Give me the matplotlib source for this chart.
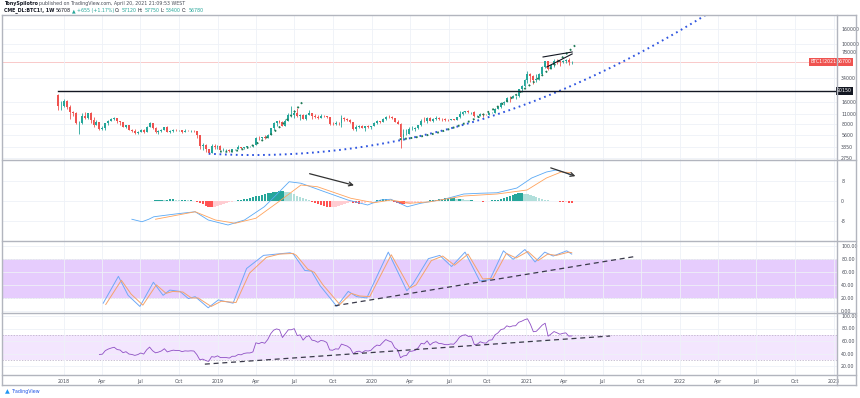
import numpy as np
import pandas as pd
import matplotlib
matplotlib.use("Agg")
import matplotlib.pyplot as plt
import matplotlib.dates as mdates
from matplotlib.lines import Line2D

# ---------------- data (weekly candles, CME BTC1!) -------------
start_date = "2017-12-18"
first_open = 20200
closes = [
    14000, 14300,
    16400, 13900, 11700, 11300, 8200, 8200, 10400, 9800, 11300, 9100, 7900, 8500, 6900,
    7000, 8300, 8900, 9300, 9600, 8700, 8500, 7400, 7700, 6700, 6500, 6100, 6300,
    6700, 6300, 7400, 8200, 7000, 6200, 6400, 6700, 7300, 6250, 6500, 6700, 6600,
    6600, 6300, 6450, 6400, 6450, 6400, 5600, 4000, 4100, 3600, 3250, 4000, 3850, 4050,
    3550, 3550, 3550, 3430, 3650, 3650, 3850, 3800, 3950, 4000, 4000, 4100,
    5200, 5100, 5300, 5200, 5750, 7000, 8200, 8750, 8650, 7650, 8950, 10800, 10800,
    11450, 10250, 10550, 9500, 10800, 11300, 10300, 10150, 9800, 10400, 10300, 9980, 8050,
    7950, 8300, 8220, 9550, 9300, 9050, 8500, 6900, 7400, 7500, 7070, 7500, 7400, 7550,
    8200, 8700, 8600, 9350, 10150, 9900, 9700, 8550, 8050, 5400, 5800, 5900,
    6800, 6900, 7100, 7700, 8900, 8750, 9700, 8700, 9450, 9750, 9350, 9300, 9100,
    9080, 9250, 9200, 9900, 11100, 11700, 11900, 11650, 11700, 10250, 10350, 10950, 10750,
    10700, 11400, 11500, 13000, 13800, 15500, 15950, 18400, 18200, 19150, 19250, 24000, 26500, 32000,
    38300, 36000, 32300, 33100, 38900, 48600, 57500, 45200, 51000, 59000, 57500, 55800,
    58500, 59800, 56200, 56708,
]
highs = [
    20650, 16500,
    17400, 17100, 14500, 12200, 11700, 8800, 11200, 11800, 11500, 11800, 9900, 9200, 8600,
    7600, 8400, 9000, 9800, 9900, 9800, 8900, 8500, 7800, 7800, 6900, 6900, 6500,
    6900, 6800, 7600, 8500, 8300, 7200, 6600, 6800, 7400, 7500, 6600, 6800, 6800,
    6700, 6700, 6800, 6600, 6550, 6600, 6500, 5600, 4400, 4300, 3700, 4300, 4300, 4100,
    4100, 3750, 3650, 3600, 3700, 3700, 4200, 3900, 3950, 4050, 4050, 4150,
    5400, 5500, 5400, 5650, 5800, 7100, 8500, 8900, 9100, 8900, 9400, 11200, 14000,
    12300, 13300, 11100, 10900, 11000, 12400, 11500, 10900, 10700, 10900, 10500, 10400, 10100,
    8500, 8800, 8500, 10500, 9900, 9600, 9300, 8500, 7800, 7800, 7700, 7500, 7700, 7600,
    8500, 9000, 8800, 9600, 10200, 10500, 10300, 9800, 9200, 8200, 6900, 6900,
    7200, 7500, 7300, 7800, 9500, 10100, 9900, 9900, 9700, 10400, 10000, 9600, 9800,
    9300, 9500, 9400, 10000, 12000, 12000, 12100, 12500, 11800, 12100, 10800, 11200, 11000,
    11000, 11500, 11800, 13400, 14100, 15900, 16400, 18900, 19500, 19900, 19500, 24500, 27000, 33300,
    42000, 40500, 37900, 38700, 40500, 49500, 58500, 58300, 52500, 61700, 61500, 58600,
    60000, 61500, 65000, 57750,
]
lows = [
    12600, 12500,
    13800, 12800, 9300, 10300, 8000, 5900, 8100, 9400, 9400, 8300, 7300, 7900, 6600,
    6600, 6600, 7800, 8700, 9000, 8300, 7900, 7200, 7100, 6600, 6200, 5800, 5800,
    6200, 6100, 6300, 7300, 6900, 6000, 5900, 6200, 6700, 6200, 6100, 6200, 6400,
    6400, 6100, 6300, 6350, 6250, 6300, 5200, 3700, 3500, 3300, 3150, 3200, 3600, 3600,
    3500, 3450, 3450, 3350, 3350, 3550, 3600, 3700, 3650, 3800, 3900, 3950,
    4100, 4900, 4950, 5000, 5200, 5650, 6600, 7600, 8300, 7500, 7500, 8900, 10000,
    9600, 9900, 9100, 9400, 9200, 10800, 9500, 9800, 9400, 9700, 9900, 9700, 7800,
    7800, 7800, 7900, 7300, 8900, 8800, 8400, 6600, 6500, 7100, 7000, 6400, 7100, 6900,
    7500, 8100, 8300, 8500, 9100, 9700, 9400, 8500, 8000, 3800, 4900, 5700,
    5900, 6700, 6500, 6800, 7600, 8600, 8200, 8700, 8600, 9200, 9100, 8900, 8900,
    8900, 9100, 9100, 9100, 9800, 10700, 11200, 11400, 11100, 9900, 9900, 10200, 10100,
    10500, 10600, 11200, 11400, 12900, 13300, 14800, 15800, 16200, 18000, 17600, 19000, 22000, 26000,
    29000, 30500, 28700, 30000, 32500, 37500, 47000, 44000, 45000, 49000, 53500, 50500,
    54700, 55500, 51500, 53400,
]
opens = [first_open] + closes[:-1]
dates = pd.date_range(start_date, periods=len(closes), freq="7D")

# MACD panel values (axis units as labelled: -8 / 0 / 8)
macd_dates = ["2018-06-11", "2018-07-05", "2018-07-21", "2018-08-02", "2018-09-22", "2018-11-08",
              "2018-12-09", "2019-01-25", "2019-03-05", "2019-04-21", "2019-05-15", "2019-06-19",
              "2019-07-17", "2019-09-11", "2019-11-05", "2019-12-22", "2020-01-22", "2020-02-15",
              "2020-03-25", "2020-04-26", "2020-06-20", "2020-08-06", "2020-09-14", "2020-10-24",
              "2020-12-10", "2021-01-14", "2021-02-18", "2021-03-13", "2021-04-06", "2021-04-16"]
macd_vals = [-7.3, -8.3, -7.3, -6.3, -5.2, -4.3, -7.6, -9.6, -7.6, -2.3, 1.7, 7.7, 7.1, 3.7, 0.4,
             -1.6, 0.4, 0.7, -2.3, -0.9, 0.7, 2.8, 3.1, 3.3, 5.2, 9.2, 11.6, 12.4, 11.2, 10.4]
signal_dates = ["2018-08-06", "2018-11-08", "2018-12-26", "2019-02-11", "2019-04-01", "2019-05-25",
                "2019-07-17", "2019-08-25", "2019-11-12", "2020-01-06", "2020-02-15", "2020-04-01",
                "2020-05-18", "2020-08-06", "2020-10-24", "2021-01-03", "2021-02-18", "2021-03-25",
                "2021-04-16"]
signal_vals = [-7.3, -4.3, -7.6, -8.9, -6.9, -0.3, 6.4, 5.7, 1.1, -0.7, 0.4, -0.9, -0.3, 2.0, 2.8,
               4.4, 9.2, 11.6, 11.4]
hist_first_bar = 33
hist_vals = [
    0.4, 0.6, 0.6, 0.4, 0.6, 0.8, 0.8, 0.6, 0.4, 0.6, 0.6, 0.4, 0.4, 0.2,
    -0.2, -0.6, -1.2, -1.8, -2.2, -2.4, -2.2, -1.8, -1.4, -1.0, -0.6, -0.4, -0.2,
    0.2, 0.4, 0.6, 0.8, 1.0, 1.2, 1.6, 2.0, 2.2, 2.4, 2.8, 3.2, 3.4, 3.6, 3.8, 4.0, 4.0, 3.8, 3.6,
    3.2, 2.8, 2.2, 1.6, 1.2, 0.8, 0.4,
    -0.2, -0.6, -1.0, -1.4, -1.8, -2.2, -2.4, -2.4, -2.2, -1.8, -1.4, -1.0, -0.6,
    -0.4, -0.6, -0.8, -1.0, -0.8, -0.6, -0.4, -0.2,
    0.2, 0.4, 0.6, 0.8, 0.8, 0.6, 0.4,
    -0.2, -0.6, -1.0, -1.2, -1.2, -1.0, -0.8, -0.6,
    -0.4, -0.2, 0.0, 0.2, 0.4, 0.4,
    0.6, 0.8, 1.0, 1.2, 1.2, 1.2, 1.2, 1.0, 1.0, 0.8, 0.6, 0.4, 0.4,
    0.2, 0.2, 0.0, -0.2, 0.0, 0.2, 0.4, 0.4,
    0.6, 0.8, 1.2, 1.6, 2.0, 2.4, 2.8, 3.2, 3.2, 3.0, 2.8, 2.4, 2.0, 1.6, 1.2, 0.8,
    0.6, 0.4, 0.2, 0.2, 0.0, -0.2, -0.4, -0.4, -0.6, -0.8,
]

# Stoch RSI values
k_dates = ["2018-04-04", "2018-05-10", "2018-06-02", "2018-06-30", "2018-08-01", "2018-08-24",
           "2018-09-09", "2018-10-03", "2018-10-23", "2018-11-08", "2018-12-09", "2019-01-02",
           "2019-02-06", "2019-03-10", "2019-04-19", "2019-05-20", "2019-06-21", "2019-06-29",
           "2019-07-26", "2019-08-11", "2019-08-31", "2019-10-10", "2019-11-06", "2019-11-26",
           "2019-12-20", "2020-02-09", "2020-03-24", "2020-04-08", "2020-05-14", "2020-06-10",
           "2020-07-08", "2020-08-09", "2020-09-13", "2020-10-07", "2020-11-08", "2020-12-01",
           "2020-12-29", "2021-01-22", "2021-02-14", "2021-03-06", "2021-04-07", "2021-04-19"]
k_vals = [12, 53, 24, 7, 44, 24, 32, 30, 19, 22, 5, 17, 12, 65, 85, 87, 89, 87, 62, 61, 39, 7,
          30, 22, 20, 90, 31, 42, 80, 85, 68, 90, 46, 48, 92, 79, 94, 75, 90, 84, 92, 87]
d_dates = ["2018-04-10", "2018-05-17", "2018-06-09", "2018-07-07", "2018-08-08", "2018-08-31",
           "2018-09-16", "2018-10-10", "2018-10-30", "2018-11-15", "2018-12-16", "2019-01-09",
           "2019-02-13", "2019-03-17", "2019-04-26", "2019-05-27", "2019-06-28", "2019-07-06",
           "2019-08-02", "2019-08-18", "2019-09-07", "2019-10-17", "2019-11-13", "2019-12-03",
           "2019-12-27", "2020-02-16", "2020-03-31", "2020-04-15", "2020-05-21", "2020-06-17",
           "2020-07-15", "2020-08-16", "2020-09-20", "2020-10-14", "2020-11-15", "2020-12-08",
           "2021-01-05", "2021-01-29", "2021-02-21", "2021-03-13", "2021-04-12", "2021-04-19"]
d_vals = [10, 47, 26, 9, 40, 27, 30, 29, 20, 20, 7, 15, 13, 58, 82, 87, 88, 85, 64, 59, 40, 10,
          27, 23, 22, 86, 35, 40, 77, 84, 70, 87, 49, 50, 88, 81, 91, 77, 87, 85, 90, 89]

# price-axis tick labels and levels
price_ticks = [2750, 3850, 5600, 8000, 11000, 16000, 34000, 78000, 100000, 160000]
resistance_level = 22700
resistance_label = "20150"
last_price = 56708
x_tick_dates = pd.date_range("2018-01-01", "2023-01-01", freq="QS")

# drawings (anchor points: date, value)
blue_curve = (["2018-12-10", "2020-01-20", "2021-04-01", "2022-03-01"], [3120, 4400, 23400, 248000])
green_curve1 = (["2019-01-06", "2019-03-25", "2019-05-12", "2019-06-14", "2019-07-21"], [3320, 4400, 5680, 9100, 16560])
green_curve2 = (["2020-03-07", "2020-06-27", "2020-10-07", "2020-12-10", "2021-01-26", "2021-03-05", "2021-04-27"],
                [4840, 7060, 11700, 21300, 32000, 44000, 102800])
wedge_top = (["2021-02-10", "2021-04-20"], [66200, 77400])
wedge_bot = (["2021-02-19", "2021-04-20"], [48300, 72800])
stoch_trend = (["2019-10-05", "2021-09-13"], [8, 83])
rsi_trend = (["2018-12-01", "2021-07-19"], [23, 68])
macd_arrow1 = (["2019-07-31", "2019-11-26"], [11.2, 6.0])
macd_arrow2 = (["2021-02-22", "2021-05-04"], [13.6, 9.6])

# ---------------- RSI computed from the closes ----------------------------------------
c = pd.Series(closes, dtype=float)
d = c.diff()
up = d.clip(lower=0)
dn = -d.clip(upper=0)
rs = up.ewm(alpha=1 / 14, adjust=False).mean() / dn.ewm(alpha=1 / 14, adjust=False).mean()
rsi = 100 - 100 / (1 + rs)
rsi[:14] = np.nan

# ---------------- figure --------------------------------------------------------------
W, H = 860, 398
fig = plt.figure(figsize=(W / 100, H / 100), dpi=100)
fig.patch.set_facecolor("white")


def ax_px(x0, y0, x1, y1):
    return fig.add_axes([x0 / W, 1 - y1 / H, (x1 - x0) / W, (y1 - y0) / H])


def dn_(lst):
    return mdates.date2num(pd.to_datetime(lst))


X0, X1 = 2, 837
ref = mdates.date2num(pd.Timestamp("2018-01-01"))
xlim = (ref - 147, ref + 1833)
xn = mdates.date2num(dates)
grid_c = "#EEF1F7"
sep_c = "#B2B5BE"
txt_c = "#4A4E59"
FS = 3.4

axp = ax_px(X0, 15, X1, 160)
axm = ax_px(X0, 160, X1, 241)
axs = ax_px(X0, 241, X1, 313)
axr = ax_px(X0, 313, X1, 375)
for a in (axp, axm, axs, axr):
    a.set_xlim(*xlim)
    a.set_facecolor("white")
    for sp in a.spines.values():
        sp.set_visible(False)
    a.yaxis.tick_right()
    a.tick_params(axis="y", length=0, labelsize=FS, labelcolor=txt_c, pad=3)
    a.tick_params(axis="x", length=0, labelbottom=False)
    a.set_xticks(mdates.date2num(x_tick_dates))
    a.grid(True, axis="x", color=grid_c, lw=0.6)

# price panel
axp.set_yscale("log")
axp.set_ylim(2585, 248000)
axp.yaxis.set_major_locator(matplotlib.ticker.FixedLocator(price_ticks))
axp.yaxis.set_minor_locator(matplotlib.ticker.NullLocator())
axp.set_yticklabels([str(p) for p in price_ticks])
axp.grid(True, axis="y", color=grid_c, lw=0.6)
up_c, dn_c = "#26A69A", "#EF5350"
cols = [up_c if cl >= op else dn_c for op, cl in zip(opens, closes)]
axp.vlines(xn, lows, highs, colors=cols, lw=0.6, zorder=3)
body_lo = np.minimum(opens, closes)
body_hi = np.maximum(opens, closes)
axp.bar(xn, body_hi - body_lo, bottom=body_lo, width=4.6, color=cols, zorder=4, lw=0)


def curve(ax, anchors, deg, extend, **kw):
    ds, vs = anchors
    t = dn_(ds)
    t0 = t[0]
    p = np.polyfit(t - t0, np.log10(vs), deg)
    tt = np.linspace(0, t[-1] - t0 + extend, 400)
    ax.plot(tt + t0, 10 ** np.polyval(p, tt), **kw)


curve(axp, blue_curve, 2, 60, color="#2F55E0", lw=1.4, ls=(0, (0.9, 1.9)), zorder=5)
curve(axp, green_curve1, 2, 0, color="#1F7A55", lw=1.4, ls=(0, (0.9, 1.9)), zorder=6)
curve(axp, green_curve2, 2, 0, color="#1F7A55", lw=1.4, ls=(0, (0.9, 1.9)), zorder=6)
for seg in (wedge_top, wedge_bot):
    axp.plot(dn_(seg[0]), seg[1], color="#131722", lw=0.8, zorder=7)
axp.plot([xn[0], xlim[1]], [resistance_level] * 2, color="#131722", lw=1.0, zorder=6)
axp.axhline(last_price, color="#F7B4B4", lw=0.5, zorder=1)

# price labels on axis
tr = axp.get_yaxis_transform()
axp.text(1.0, last_price, "56700", transform=tr, fontsize=FS, color="white",
         ha="left", va="center", bbox=dict(boxstyle="square,pad=0.25", fc="#EF5350", ec="none"),
         clip_on=False, zorder=10)
axp.text(0.9995, last_price, "BTC1!2021", transform=tr, fontsize=FS, color="white",
         ha="right", va="center", bbox=dict(boxstyle="square,pad=0.25", fc="#EF5350", ec="none"),
         clip_on=False, zorder=10)
axp.text(1.0, resistance_level, resistance_label, transform=tr, fontsize=FS, color="white",
         ha="left", va="center", bbox=dict(boxstyle="square,pad=0.25", fc="#131722", ec="none"),
         clip_on=False, zorder=10)

# MACD panel
axm.set_ylim(-16, 16.4)
axm.set_yticks([-8, 0, 8])
axm.set_yticklabels(["-8", "0", "8"])
axm.grid(True, axis="y", color=grid_c, lw=0.6)
hx = xn[hist_first_bar:hist_first_bar + len(hist_vals)]
hc = []
for i, v in enumerate(hist_vals):
    prev = hist_vals[i - 1] if i > 0 else v
    if v >= 0:
        hc.append("#26A69A" if v >= prev else "#B2DFDB")
    else:
        hc.append("#FFCDD2" if v >= prev else "#FF5252")
axm.bar(hx, hist_vals, width=5.5, color=hc, lw=0, zorder=2)
axm.plot(dn_(macd_dates), macd_vals, color="#5AA9F5", lw=0.6, zorder=3)
axm.plot(dn_(signal_dates), signal_vals, color="#FFA35C", lw=0.6, zorder=3)
for arr in (macd_arrow1, macd_arrow2):
    t = dn_(arr[0])
    axm.annotate("", xy=(t[1], arr[1][1]), xytext=(t[0], arr[1][0]),
                 arrowprops=dict(arrowstyle="->", color="#333333", lw=0.9, mutation_scale=7))

# Stoch RSI panel
axs.set_ylim(-3, 107)
axs.set_yticks([0, 20, 40, 60, 80, 100])
axs.set_yticklabels(["0.00", "20.00", "40.00", "60.00", "80.00", "100.00"])
axs.grid(True, axis="y", color=grid_c, lw=0.6)
axs.axhspan(20, 80, color="#E6CCFD", lw=0, zorder=0)
for lv in (20, 80):
    axs.axhline(lv, color="#9A8FA8", lw=0.5, ls=(0, (2, 2)), zorder=1)
axs.plot(dn_(k_dates), k_vals, color="#6FA8F7", lw=0.7, zorder=3)
axs.plot(dn_(d_dates), d_vals, color="#F5A36B", lw=0.7, zorder=3)
t = dn_(stoch_trend[0])
axs.plot(t, stoch_trend[1], color="#3A3A4A", lw=0.9, ls=(0, (4, 3)), zorder=4)

# RSI panel
axr.set_ylim(5.6, 104.8)
axr.set_yticks([20, 40, 60, 80, 100])
axr.set_yticklabels(["20.00", "40.00", "60.00", "80.00", "100.00"])
axr.grid(True, axis="y", color=grid_c, lw=0.6)
axr.axhspan(30, 70, color="#F3E6FE", lw=0, zorder=0)
for lv in (30, 70):
    axr.axhline(lv, color="#B5A9C2", lw=0.5, ls=(0, (2, 2)), zorder=1)
axr.plot(xn, rsi, color="#8E4FC4", lw=0.6, zorder=3)
t = dn_(rsi_trend[0])
axr.plot(t, rsi_trend[1], color="#3A3A4A", lw=0.9, ls=(0, (4, 3)), zorder=4)

# x axis labels
axr.tick_params(axis="x", labelbottom=True, labelsize=FS, labelcolor=txt_c, pad=3)
axr.set_xticklabels([str(dt.year) if dt.month == 1 else dt.strftime("%b") for dt in x_tick_dates])


# frame lines
def fline(x0, y0, x1, y1, c=sep_c, lw=1.0):
    fig.add_artist(Line2D([x0 / W, x1 / W], [1 - y0 / H, 1 - y1 / H], color=c, lw=lw))


fline(X0, 15, 856, 15)
for yy in (160, 241, 313, 375):
    fline(X0, yy, 856, yy)
fline(X0, 385, 856, 385)
fline(X0, 15, X0, 385)
fline(X1, 15, X1, 385)
fline(856, 15, 856, 385)

# header: pieces laid out one after another
renderer = fig.canvas.get_renderer()


def text_run(x_px, y_px, pieces):
    x = x_px
    for s, col, wt in pieces:
        t = fig.text(x / W, 1 - y_px / H, s, fontsize=FS, color=col, weight=wt, va="center")
        bb = t.get_window_extent(renderer)
        x += bb.width + 1.2


text_run(4, 4, [("TonySpilotro", "#131722", "bold"),
                ("published on TradingView.com, April 20, 2021 21:09:53 WEST", "#4A4E59", "normal")])
text_run(4, 10.5, [("CME_DL:BTC1!, 1W", "#131722", "bold"), ("56708", "#131722", "normal"),
                   ("\u25B2", "#26A69A", "normal"), ("+655 (+1.17%)", "#26A69A", "normal"),
                   ("O:", "#131722", "normal"), ("57120", "#26A69A", "normal"),
                   ("H:", "#131722", "normal"), ("57750", "#26A69A", "normal"),
                   ("L:", "#131722", "normal"), ("53400", "#26A69A", "normal"),
                   ("C:", "#131722", "normal"), ("56780", "#26A69A", "normal")])
fig.text(5 / W, 1 - 392 / H, "\u25B2", fontsize=4.5, color="#2196F3", va="center")
fig.text(12 / W, 1 - 392 / H, "TradingView", fontsize=FS, color="#1E53E5", va="center")

fig.savefig("out.png", dpi=100, facecolor="white")
